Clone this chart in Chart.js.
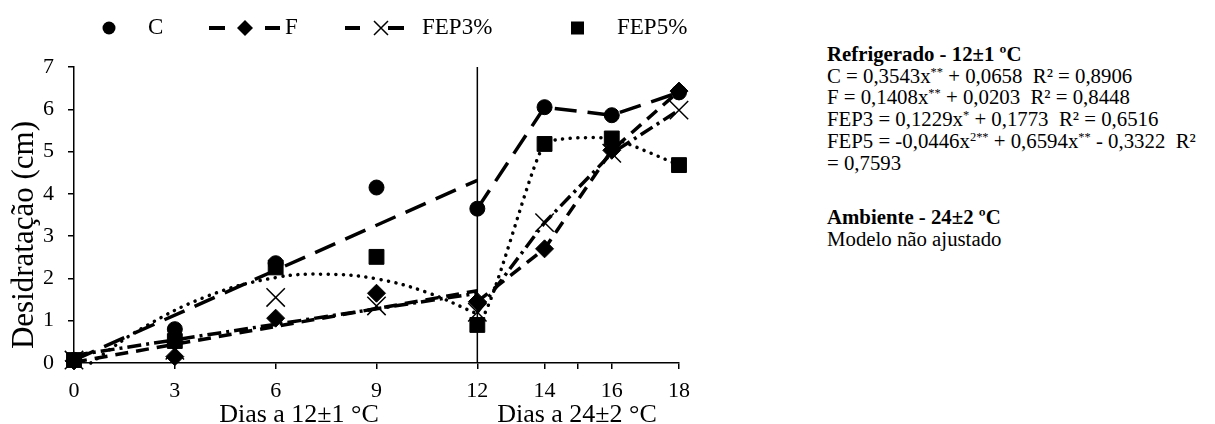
<!DOCTYPE html>
<html>
<head>
<meta charset="utf-8">
<script src="https://cdn.jsdelivr.net/npm/chart.js@4.4.1/dist/chart.umd.min.js"></script>
<style>
    html, body { margin: 0; padding: 0; background: #fff; }
    #wrap { position: relative; width: 1215px; height: 424px; }
    #chart { position: absolute; left: 0; top: 0; }
    #notes {
        position: absolute; left: 827px; top: 43px;
        font-family: "Liberation Serif", "Times New Roman", serif;
        font-size: 20.8px; line-height: 21.7px; color: #000; white-space: nowrap;
    }
    #notes sup { font-size: 0.6em; line-height: 0; vertical-align: 0.6em; }
    #notes .gap { margin-top: 33px; }
</style>
</head>
<body>
<div id="wrap">
    <canvas id="chart" width="720" height="424"></canvas>
    <div id="notes">
        <b>Refrigerado - 12±1 ºC</b><br>
        C = 0,3543x<sup>**</sup> + 0,0658&nbsp; R² = 0,8906<br>
        F = 0,1408x<sup>**</sup> + 0,0203&nbsp; R² = 0,8448<br>
        FEP3 = 0,1229x<sup>*</sup> + 0,1773&nbsp; R² = 0,6516<br>
        FEP5 = -0,0446x<sup>2**</sup> + 0,6594x<sup>**</sup> - 0,3322&nbsp; R²<br>
        = 0,7593
        <div class="gap"><b>Ambiente - 24±2 ºC</b><br>Modelo não ajustado</div>
    </div>
</div>
<script>
// Dias de armazenamento (0-12 a 12 °C, 12-18 a 24 °C)
const days = [0, 3, 6, 9, 12, 14, 16, 18];
const valuesC = [0.07, 0.8, 2.36, 4.15, 3.65, 6.05, 5.86, 6.4];
const valuesF = [0.05, 0.15, 1.06, 1.65, 1.45, 2.7, 5.03, 6.43];
const valuesFEP3 = [0.07, 0.3, 1.55, 1.35, 1.2, 3.32, 4.96, 5.98];
const valuesFEP5 = [0.07, 0.52, 2.26, 2.51, 0.9, 5.18, 5.31, 4.68];

// linhas de tendencia (periodo refrigerado)
const trendDays = [0, 12];
const trendC = [0.07, 4.32];
const trendF = [0.02, 1.71];
const trendFEP3 = [0.18, 1.65];
const trendFEP5Days = [0.5, 2, 4, 6, 7.5, 9, 10.5, 12];
const trendFEP5 = [0, 0.81, 1.59, 2.02, 2.1, 1.99, 1.67, 1.16];

const xTicks = [0, 3, 6, 9, 12, 14, 15, 16, 18];
const xTickLabels = ['0', '3', '6', '9', '12', '14', '', '16', '18'];
const yTicks = [0, 1, 2, 3, 4, 5, 6, 7];

const SERIF = 'Liberation Serif';
const BLACK = '#000';

const DASH_C = [22, 11];
const DASH_F = [13, 8];
const DASH_FEP3 = [14, 5, 3, 5];
const DOT_FEP5 = [0.1, 7.5];

const toPts = (xs, ys) => xs.map((x, i) => ({ x: x, y: ys[i] }));
// only the ambient period (after day 12) is joined point to point
const afterSplit = ctx => ctx.p0.parsed.x < 12 ? 'rgba(0,0,0,0)' : BLACK;

function seriesDataset(values, style, radius, dash, extra) {
    return Object.assign({
        data: toPts(days, values),
        showLine: true,
        borderColor: BLACK,
        borderWidth: 3.5,
        borderDash: dash,
        segment: { borderColor: afterSplit },
        pointStyle: style,
        pointRadius: radius,
        pointBackgroundColor: BLACK,
        pointBorderColor: BLACK,
        pointBorderWidth: 1,
        clip: false
    }, extra || {});
}

function trendDataset(xs, ys, dash, extra) {
    return Object.assign({
        data: toPts(xs, ys),
        showLine: true,
        borderColor: BLACK,
        borderWidth: 3.5,
        borderDash: dash,
        pointRadius: 0,
        clip: false,
        order: 5
    }, extra || {});
}

const labelsPlugin = {
    id: 'labels',
    afterDraw(chart) {
        const ctx = chart.ctx;
        ctx.save();
        ctx.fillStyle = BLACK;
        ctx.strokeStyle = BLACK;

        // axis titles
        ctx.font = '26px ' + SERIF;
        ctx.textAlign = 'center';
        ctx.textBaseline = 'alphabetic';
        ctx.fillText('Dias a 12±1 °C', 299, 422);
        ctx.fillText('Dias a 24±2 °C', 577, 422);

        ctx.save();
        ctx.translate(33, 235);
        ctx.rotate(-Math.PI / 2);
        ctx.font = '31px ' + SERIF;
        ctx.fillText('Desidratação (cm)', 0, 0);
        ctx.restore();

        // legend
        const ly = 28;
        ctx.font = '23px ' + SERIF;
        ctx.textAlign = 'left';
        ctx.textBaseline = 'middle';

        ctx.beginPath();
        ctx.arc(109, ly, 6.5, 0, Math.PI * 2);
        ctx.fill();
        ctx.fillText('C', 148, ly);

        ctx.fillRect(209, ly - 2, 16, 4);
        ctx.beginPath();
        ctx.moveTo(245, ly - 8); ctx.lineTo(253, ly); ctx.lineTo(245, ly + 8); ctx.lineTo(237, ly);
        ctx.closePath();
        ctx.fill();
        ctx.fillRect(265, ly - 2, 15, 4);
        ctx.fillText('F', 285, ly);

        ctx.fillRect(345, ly - 2, 15, 4);
        ctx.lineWidth = 1.5;
        ctx.beginPath();
        ctx.moveTo(374, ly - 7); ctx.lineTo(388, ly + 7);
        ctx.moveTo(388, ly - 7); ctx.lineTo(374, ly + 7);
        ctx.stroke();
        ctx.fillRect(388, ly - 2, 16, 4);
        ctx.fillText('FEP3%', 422, ly);

        ctx.fillRect(571, ly - 6.5, 13, 13);
        ctx.fillText('FEP5%', 617, ly);

        ctx.restore();
    }
};

function drawChart() {
    new Chart(document.getElementById('chart'), {
        type: 'scatter',
        data: {
            datasets: [
                // divisoria entre os dois ambientes
                {
                    data: [{ x: 12, y: 0 }, { x: 12, y: 7 }],
                    showLine: true, borderColor: BLACK, borderWidth: 1.5,
                    pointRadius: 0, order: 6
                },
                trendDataset(trendDays, trendC, DASH_C),
                trendDataset(trendDays, trendF, DASH_F),
                trendDataset(trendDays, trendFEP3, DASH_FEP3),
                trendDataset(trendFEP5Days, trendFEP5, DOT_FEP5, { tension: 0.4, borderCapStyle: 'round' }),
                seriesDataset(valuesC, 'circle', 7.5, DASH_C, { order: 4 }),
                seriesDataset(valuesF, 'rectRot', 9, DASH_F, { order: 3 }),
                seriesDataset(valuesFEP3, 'crossRot', 13, DASH_FEP3, { order: 2, pointBorderWidth: 1.5 }),
                seriesDataset(valuesFEP5, 'rect', 10.5, DOT_FEP5, { order: 1, tension: 0.15, borderCapStyle: 'round' })
            ]
        },
        options: {
            responsive: false,
            animation: false,
            devicePixelRatio: 1,
            events: [],
            layout: { padding: { top: 67, right: 41, bottom: 0, left: 0 } },
            plugins: {
                legend: { display: false },
                tooltip: { enabled: false }
            },
            scales: {
                x: {
                    type: 'linear',
                    min: 0,
                    max: 18,
                    afterBuildTicks: s => { s.ticks = xTicks.map(v => ({ value: v })); },
                    afterFit: s => { s.height = 61; },
                    ticks: {
                        autoSkip: false,
                        maxRotation: 0,
                        padding: 9,
                        color: BLACK,
                        font: { family: SERIF, size: 22 },
                        callback: (v, i) => xTickLabels[i]
                    },
                    grid: { drawOnChartArea: false, drawTicks: true, tickLength: 6, color: BLACK, lineWidth: 1.5 },
                    border: { color: BLACK, width: 1.5 }
                },
                y: {
                    min: 0,
                    max: 7,
                    afterBuildTicks: s => { s.ticks = yTicks.map(v => ({ value: v })); },
                    afterFit: s => { s.width = 74; },
                    ticks: {
                        padding: 14,
                        color: BLACK,
                        font: { family: SERIF, size: 22 }
                    },
                    grid: { drawOnChartArea: false, drawTicks: true, tickLength: 6, color: BLACK, lineWidth: 1.5 },
                    border: { color: BLACK, width: 1.5 }
                }
            }
        },
        plugins: [labelsPlugin]
    });
}

Promise.all([
    document.fonts.load('22px "Liberation Serif"'),
    document.fonts.load('bold 22px "Liberation Serif"')
]).then(drawChart, drawChart);
</script>
</body>
</html>
